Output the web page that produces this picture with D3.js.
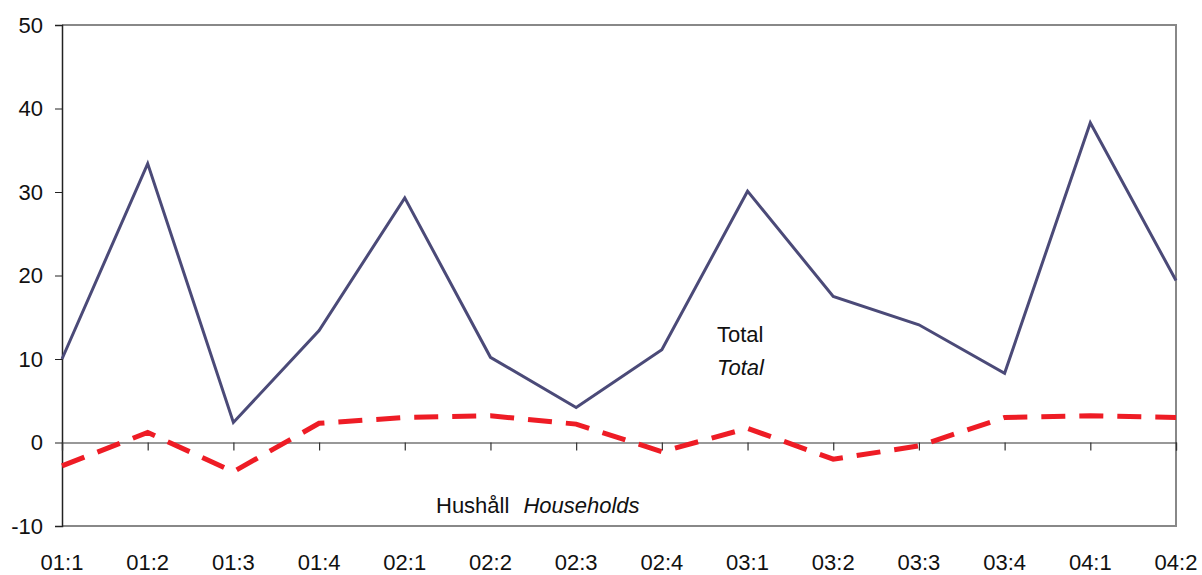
<!DOCTYPE html>
<html>
<head>
<meta charset="utf-8">
<script src="https://cdn.jsdelivr.net/npm/d3@7"></script>
<style>
  body { margin: 0; background: #fff; }
  text { font-family: "Liberation Sans", Arial, sans-serif; }
</style>
</head>
<body>
<svg id="chart" width="1202" height="575"></svg>
<script>
// quarters on the x axis
var quarters = ['01:1', '01:2', '01:3', '01:4', '02:1', '02:2', '02:3', '02:4',
                '03:1', '03:2', '03:3', '03:4', '04:1', '04:2'];
var totalValues = [10.0, 33.4, 2.4, 13.4, 29.3, 10.2, 4.2, 11.1, 30.1, 17.5, 14.1, 8.3, 38.3, 19.4];
var householdValues = [-2.8, 1.2, -3.5, 2.3, 3.0, 3.2, 2.2, -1.1, 1.7, -2.0, -0.4, 3.0, 3.2, 3.0];
var yTicks = [-10, 0, 10, 20, 30, 40, 50];

var margin = { top: 25, left: 62, right: 26, bottom: 49 },
    width = 1202 - margin.left - margin.right,
    height = 575 - margin.top - margin.bottom,
    fontSize = 22;

var svg = d3.select('#chart');
var g = svg.append('g')
    .attr('transform', 'translate(' + margin.left + ',' + margin.top + ')');

var x = d3.scalePoint()
    .domain(quarters)
    .range([0, width]);

var y = d3.scaleLinear()
    .domain([-10, 50])
    .range([height, 0]);

// frame: top, right, bottom in grey
g.append('path')
    .attr('d', 'M0,0H' + width + 'V' + height + 'H0')
    .attr('fill', 'none')
    .attr('stroke', '#888')
    .attr('stroke-width', 2);

// y axis, plain hyphen for negatives like the original
var yAxis = g.append('g')
    .call(d3.axisLeft(y)
        .tickValues(yTicks)
        .tickSize(7)
        .tickPadding(12)
        .tickFormat(function (d) { return String(d); }));
yAxis.select('.domain').attr('stroke', '#222').attr('stroke-width', 1.5);
yAxis.selectAll('.tick line').attr('stroke', '#222');
yAxis.selectAll('.tick text')
    .attr('font-size', fontSize)
    .attr('fill', '#111')
    .style('font-family', '"Liberation Sans", Arial, sans-serif');

// zero line with category ticks
var xAxis = g.append('g')
    .attr('transform', 'translate(0,' + y(0) + ')')
    .call(d3.axisBottom(x).tickSize(8).tickFormat(''));
xAxis.select('.domain').attr('stroke', '#333').attr('stroke-width', 1.2);
xAxis.selectAll('.tick line').attr('stroke', '#333').attr('stroke-width', 1.2);

// category labels under the plot
g.append('g')
    .selectAll('text')
    .data(quarters)
    .enter()
    .append('text')
    .attr('x', function (d) { return x(d); })
    .attr('y', height + 44)
    .attr('text-anchor', 'middle')
    .attr('font-size', fontSize)
    .attr('fill', '#111')
    .text(function (d) { return d; });

var line = d3.line()
    .x(function (d, i) { return x(quarters[i]); })
    .y(function (d) { return y(d); });

g.append('path')
    .datum(totalValues)
    .attr('d', line)
    .attr('fill', 'none')
    .attr('stroke', '#4b4a78')
    .attr('stroke-width', 3)
    .attr('stroke-linejoin', 'miter');

g.append('path')
    .datum(householdValues)
    .attr('d', line)
    .attr('fill', 'none')
    .attr('stroke', '#ee1c25')
    .attr('stroke-width', 5)
    .attr('stroke-dasharray', '24,14');

// series labels
var labels = g.append('g').attr('font-size', fontSize).attr('fill', '#111');
labels.append('text')
    .attr('x', 655)
    .attr('y', 317)
    .text('Total');
labels.append('text')
    .attr('x', 655)
    .attr('y', 350)
    .attr('font-style', 'italic')
    .text('Total');
var hh = labels.append('text')
    .attr('x', 374)
    .attr('y', 488);
hh.append('tspan').text('Hushåll');
hh.append('tspan').attr('dx', 14).attr('font-style', 'italic').text('Households');
</script>
</body>
</html>
